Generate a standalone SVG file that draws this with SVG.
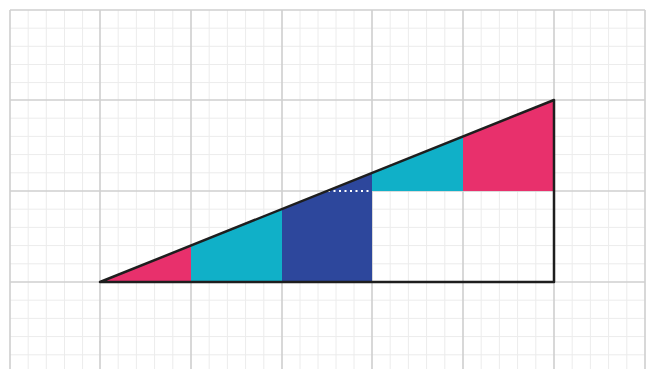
<svg xmlns="http://www.w3.org/2000/svg" width="648" height="369" viewBox="0 0 648 369">
<defs>
<style>
.minor{stroke:#ececec;stroke-width:1;fill:none}
.major{stroke:#cfcfcf;stroke-width:1.6;fill:none}
.pink{fill:#e8306c}
.teal{fill:#10b0c8}
.navy{fill:#2d479c}
.outline{fill:none;stroke:#1e1e1e;stroke-width:2.5;stroke-linejoin:round}
</style>
</defs>
<rect width="648" height="369" fill="#ffffff"/>
<g id="grid-minor" class="minor">
<path d="M28.2,10V369M46.3,10V369M64.5,10V369M82.6,10V369M118.2,10V369M136.4,10V369M154.6,10V369M172.8,10V369M209.2,10V369M227.4,10V369M245.6,10V369M263.8,10V369M300,10V369M318,10V369M336,10V369M354,10V369M390.2,10V369M408.4,10V369M426.6,10V369M444.8,10V369M481.2,10V369M499.4,10V369M517.6,10V369M535.8,10V369M572.2,10V369M590.4,10V369M608.6,10V369M626.8,10V369"/>
<path d="M10,28.2H645M10,46.3H645M10,64.5H645M10,82.6H645M10,118.2H645M10,136.4H645M10,154.6H645M10,172.8H645M10,209.2H645M10,227.4H645M10,245.6H645M10,263.8H645M10,300.2H645M10,318.4H645M10,336.6H645M10,354.8H645"/>
</g>
<g id="grid-major" class="major">
<path d="M10,10V369M100,10V369M191,10V369M282,10V369M372,10V369M463,10V369M554,10V369M645,10V369"/>
<path d="M10,10H645M10,100H645M10,191H645M10,282H645"/>
</g>
<g id="shapes">
<polygon id="pink-left" class="pink" points="100,282 191,245.5 191,282"/>
<polygon id="teal-left" class="teal" points="191,245.5 282,209 282,282 191,282"/>
<polygon id="navy" class="navy" points="282,209 372,173 372,282 282,282"/>
<polygon id="teal-right" class="teal" points="372,173 463,136.5 463,191 372,191"/>
<polygon id="pink-right" class="pink" points="463,136.5 554,100 554,191 463,191"/>
<line id="dotted" x1="328" y1="191" x2="371" y2="191" stroke="#ffffff" stroke-width="2" stroke-dasharray="2 3.5"/>
<path id="triangle-outline" class="outline" d="M100,282 L554,100 L554,282 Z"/>
</g>
</svg>
